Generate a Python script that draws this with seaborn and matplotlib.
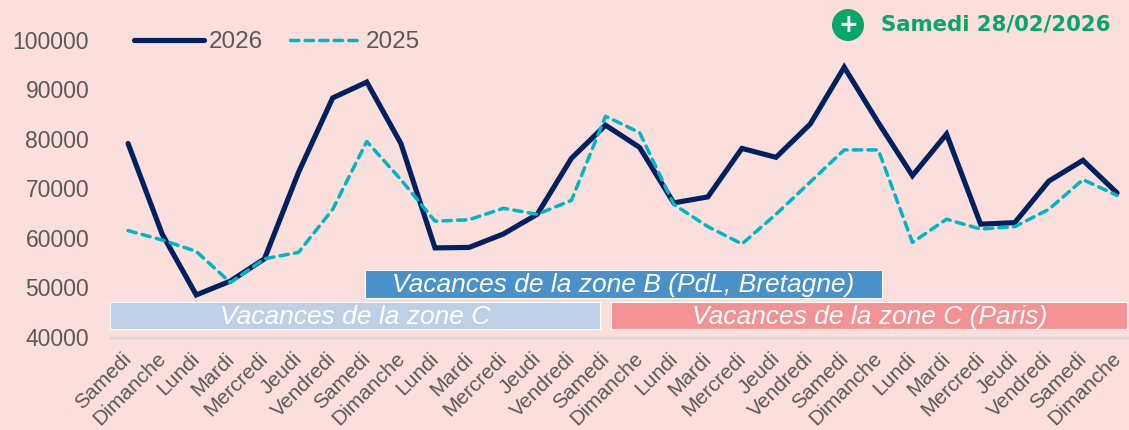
import matplotlib
matplotlib.use("Agg")
import matplotlib.pyplot as plt
import matplotlib.transforms as mtrans
import seaborn as sns
import pandas as pd
from matplotlib.patches import Rectangle, Circle

semaine = ['Samedi', 'Dimanche', 'Lundi', 'Mardi', 'Mercredi', 'Jeudi', 'Vendredi']
jours = semaine * 4 + ['Samedi', 'Dimanche']

val_2026 = [79300, 61000, 48700, 51500, 56000, 73500, 88500, 91700, 79300, 58200,
            58300, 61000, 65000, 76300, 83000, 78500, 67300, 68500, 78300, 76500,
            83200, 94700, 83500, 72800, 81200, 63000, 63300, 71700, 75900, 69300]
val_2025 = [61700, 59800, 57500, 51200, 56000, 57300, 66000, 79700, 72000, 63600,
            63900, 66200, 65000, 67800, 84800, 81500, 67000, 62500, 59000, 65000,
            71500, 78000, 78000, 59300, 64000, 62000, 62500, 66000, 72000, 68800]

y_ticks = [40000, 50000, 60000, 70000, 80000, 90000, 100000]

# label, debut, fin, bas, haut, couleur
vacances = [
    ('Vacances de la zone B (PdL, Bretagne)', 6.95, 22.1, 48080, 53740, '#4A90C9'),
    ('Vacances de la zone C', -0.53, 13.84, 41820, 47270, '#BDD0E8'),
    ('Vacances de la zone C (Paris)', 14.16, 29.3, 41820, 47270, '#F29292'),
]

bg = '#FADFDC'
gris = '#595959'
vert = '#0BA56A'

df = pd.DataFrame({'idx': range(len(jours)), 'jour': jours, '2026': val_2026, '2025': val_2025})

sns.set_theme(style='white')
plt.rcParams['font.family'] = ['Liberation Sans', 'DejaVu Sans']

fig = plt.figure(figsize=(11.29, 4.3), dpi=100, facecolor=bg)
ax = fig.add_axes([111 / 1129, (430 - 338) / 430, 1018 / 1129, 297 / 430], facecolor=bg)

sns.lineplot(data=df, x='idx', y='2026', color='#002060', linewidth=3.7, label='2026', ax=ax,
             solid_capstyle='round', solid_joinstyle='miter')
sns.lineplot(data=df, x='idx', y='2025', color='#00B5C4', linewidth=2.5, label='2025', ax=ax,
             linestyle=(0, (2.4, 1.8)), dash_capstyle='round')

for label, x0, x1, y0, y1, coul in vacances:
    ax.add_patch(Rectangle((x0, y0), x1 - x0, y1 - y0, facecolor=coul, edgecolor='white',
                           linewidth=0.8, zorder=3, clip_on=False))
    ax.text((x0 + x1) / 2, (y0 + y1) / 2 - 300, label, color='white', style='italic', fontsize=19,
            ha='center', va='center', zorder=4)

ax.set_xlim(-0.5, 29.35)
ax.set_ylim(40000, 100000)
ax.set_yticks(y_ticks)
ax.set_xticks(df['idx'])
ax.set_xticklabels(jours, rotation=45, ha='right', rotation_mode='anchor', fontsize=15, color=gris)
ax.tick_params(axis='y', labelsize=16.5, labelcolor=gris, length=0, pad=15.7)
ax.tick_params(axis='x', length=0, pad=8)
ax.set_xlabel('')
ax.set_ylabel('')
sns.despine(ax=ax, left=True)
ax.spines['bottom'].set_color('#D9D9D9')
ax.spines['bottom'].set_linewidth(1.5)

# decale les etiquettes pour coller a la reference
decal_x = mtrans.ScaledTranslation(-6 / 100, 0, fig.dpi_scale_trans)
for t in ax.get_xticklabels():
    t.set_transform(t.get_transform() + decal_x)
decal_y = mtrans.ScaledTranslation(0, 1 / 100, fig.dpi_scale_trans)
for t in ax.get_yticklabels():
    t.set_transform(t.get_transform() + decal_y)

ax.legend(loc='upper left', bbox_to_anchor=(0.001, 1.107), ncol=2, frameon=False, fontsize=17.5,
          handlelength=2.9, handletextpad=0.2, columnspacing=1.1, labelcolor=gris)

# pastille et date en haut a droite
fig.add_artist(Circle((8.48, 4.05), 0.16, transform=fig.dpi_scale_trans, facecolor=vert, edgecolor='none'))
fig.text(848 / 1129, 1 - 25 / 430, '+', color='white', fontsize=17, fontweight='bold', ha='center',
         va='center', family='DejaVu Sans')
fig.text(881 / 1129, 1 - 25 / 430, 'Samedi 28/02/2026', color=vert, fontsize=15.3, fontweight='bold',
         family='DejaVu Sans', ha='left', va='center')

fig.savefig('out.png', dpi=100, facecolor=bg)
